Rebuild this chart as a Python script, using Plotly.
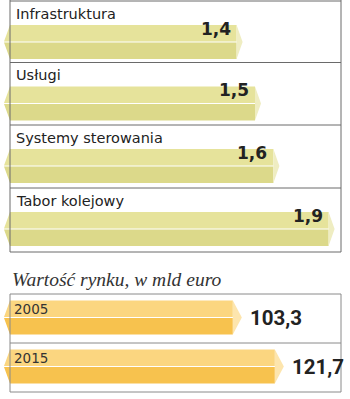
import plotly.graph_objects as go

# Rail market segments (value shares) and total market value
segments = ["Infrastruktura", "Usługi", "Systemy sterowania", "Tabor kolejowy"]
segment_values = [1.4, 1.5, 1.6, 1.9]

years = ["2005", "2015"]
market_values = [103.3, 121.7]
market_title = "Wartość rynku, w mld euro"

W, H = 350, 399

# x ranges of the two scales (upper and lower block)
TOP_RANGE = [21 / 184, 371 / 184]
BOT_RANGE = [3 / 2.283, 353 / 2.283]

YELLOW_UP, YELLOW_LO, YELLOW_CAP = "#e6e39b", "#dcd98a", "#efedc2"
ORANGE_UP, ORANGE_LO, ORANGE_CAP = "#fbd680", "#f7c24e", "#fde5ad"
LINE = "#6a6a6a"
TEXT = "#222222"


def val_at(px, rng):
    return rng[0] + px / W * (rng[1] - rng[0])


def dv(px, rng):
    return px / W * (rng[1] - rng[0])


def fmt(v):
    return f"{v:.1f}".replace(".", ",")


def prism(values, tops, height, rng, tip_px):
    """Polygons for a faceted bar: upper face, lower face and end cap."""
    up_x, up_y, lo_x, lo_y, cap_x, cap_y = [], [], [], [], [], []
    xb = val_at(10, rng)
    xl = val_at(4, rng)
    d = dv(tip_px, rng)
    for v, t in zip(values, tops):
        b = t + height
        m = (t + b) / 2
        up_x += [xl, xb, v, v, xl, None]
        up_y += [m - 0.5, t, t, m - 0.5, m - 0.5, None]
        lo_x += [xl, v, v, xb, xl, None]
        lo_y += [m + 0.5, m + 0.5, b, b, m + 0.5, None]
        cap_x += [v, v + d, v, v, None]
        cap_y += [t, m, b, t, None]
    return (up_x, up_y), (lo_x, lo_y), (cap_x, cap_y)


fig = go.Figure()

# upper block rows
top_rows = [1, 62.5, 125, 188]
top_bottom = 252
bar_tops = [r + 24 for r in top_rows]
up, lo, cap = prism(segment_values, bar_tops, 34, TOP_RANGE, 6)
for (xs, ys), col in ((up, YELLOW_UP), (lo, YELLOW_LO), (cap, YELLOW_CAP)):
    fig.add_trace(go.Scatter(x=xs, y=ys, xaxis="x", yaxis="y", fill="toself",
                             fillcolor=col, mode="lines", line=dict(width=0),
                             hoverinfo="skip", showlegend=False))

# lower block rows
bot_rows = [294, 343]
bot_bottom = 392
mbar_tops = [r + 6.5 for r in bot_rows]
up, lo, cap = prism(market_values, mbar_tops, 34, BOT_RANGE, 9)
for (xs, ys), col in ((up, ORANGE_UP), (lo, ORANGE_LO), (cap, ORANGE_CAP)):
    fig.add_trace(go.Scatter(x=xs, y=ys, xaxis="x2", yaxis="y", fill="toself",
                             fillcolor=col, mode="lines", line=dict(width=0),
                             hoverinfo="skip", showlegend=False))

annotations = []
for name, v, r, t in zip(segments, segment_values, top_rows, bar_tops):
    annotations.append(dict(text=name, xref="paper", yref="y", x=14 / W, y=r + 12.5,
                            xanchor="left", yanchor="middle", showarrow=False,
                            font=dict(family="DejaVu Sans", size=14.5, color=TEXT)))
    annotations.append(dict(text=fmt(v), xref="x", yref="y",
                            x=v - dv(4, TOP_RANGE), y=t + 3.5,
                            xanchor="right", yanchor="middle", showarrow=False,
                            font=dict(family="DejaVu Sans", size=17, color=TEXT,
                                      weight="bold")))

for yr, v, t in zip(years, market_values, mbar_tops):
    annotations.append(dict(text=yr, xref="paper", yref="y", x=12 / W, y=t + 8,
                            xanchor="left", yanchor="middle", showarrow=False,
                            font=dict(family="DejaVu Sans", size=13.5, color="#333333")))
    annotations.append(dict(text=fmt(v), xref="x2", yref="y",
                            x=v + dv(15, BOT_RANGE), y=t + 17,
                            xanchor="left", yanchor="middle", showarrow=False,
                            font=dict(family="Roboto", size=20.5, color=TEXT,
                                      weight="bold")))

annotations.append(dict(text=market_title, xref="paper", yref="y", x=10 / W, y=279,
                        xanchor="left", yanchor="middle", showarrow=False,
                        font=dict(family="Liberation Serif", size=19.5, color="#333333",
                                  style="italic")))

# frame lines of both blocks
shapes = []
L, R = 10 / W, 341 / W


def hline(y, color=LINE):
    shapes.append(dict(type="line", xref="paper", yref="y", x0=L, x1=R, y0=y, y1=y,
                       line=dict(color=color, width=1), layer="above"))


def vline(x, y0, y1, color=LINE):
    shapes.append(dict(type="line", xref="paper", yref="y", x0=x, x1=x, y0=y0, y1=y1,
                       line=dict(color=color, width=1), layer="above"))


for y in top_rows + [top_bottom]:
    hline(y)
vline(L, 0, top_bottom)
vline(R, 0, top_bottom)
for y in bot_rows + [bot_bottom]:
    hline(y, "#8a8a8a")
vline(L, bot_rows[0], bot_bottom, "#8a8a8a")
vline(R, bot_rows[0], bot_bottom, "#8a8a8a")

fig.update_layout(
    width=W, height=H,
    margin=dict(l=0, r=0, t=0, b=0),
    paper_bgcolor="white", plot_bgcolor="white",
    xaxis=dict(range=TOP_RANGE, visible=False, domain=[0, 1]),
    xaxis2=dict(range=BOT_RANGE, visible=False, overlaying="x", anchor="y"),
    yaxis=dict(range=[H, 0], visible=False, domain=[0, 1]),
    annotations=annotations,
    shapes=shapes,
    showlegend=False,
)

fig.write_html("out.html")
